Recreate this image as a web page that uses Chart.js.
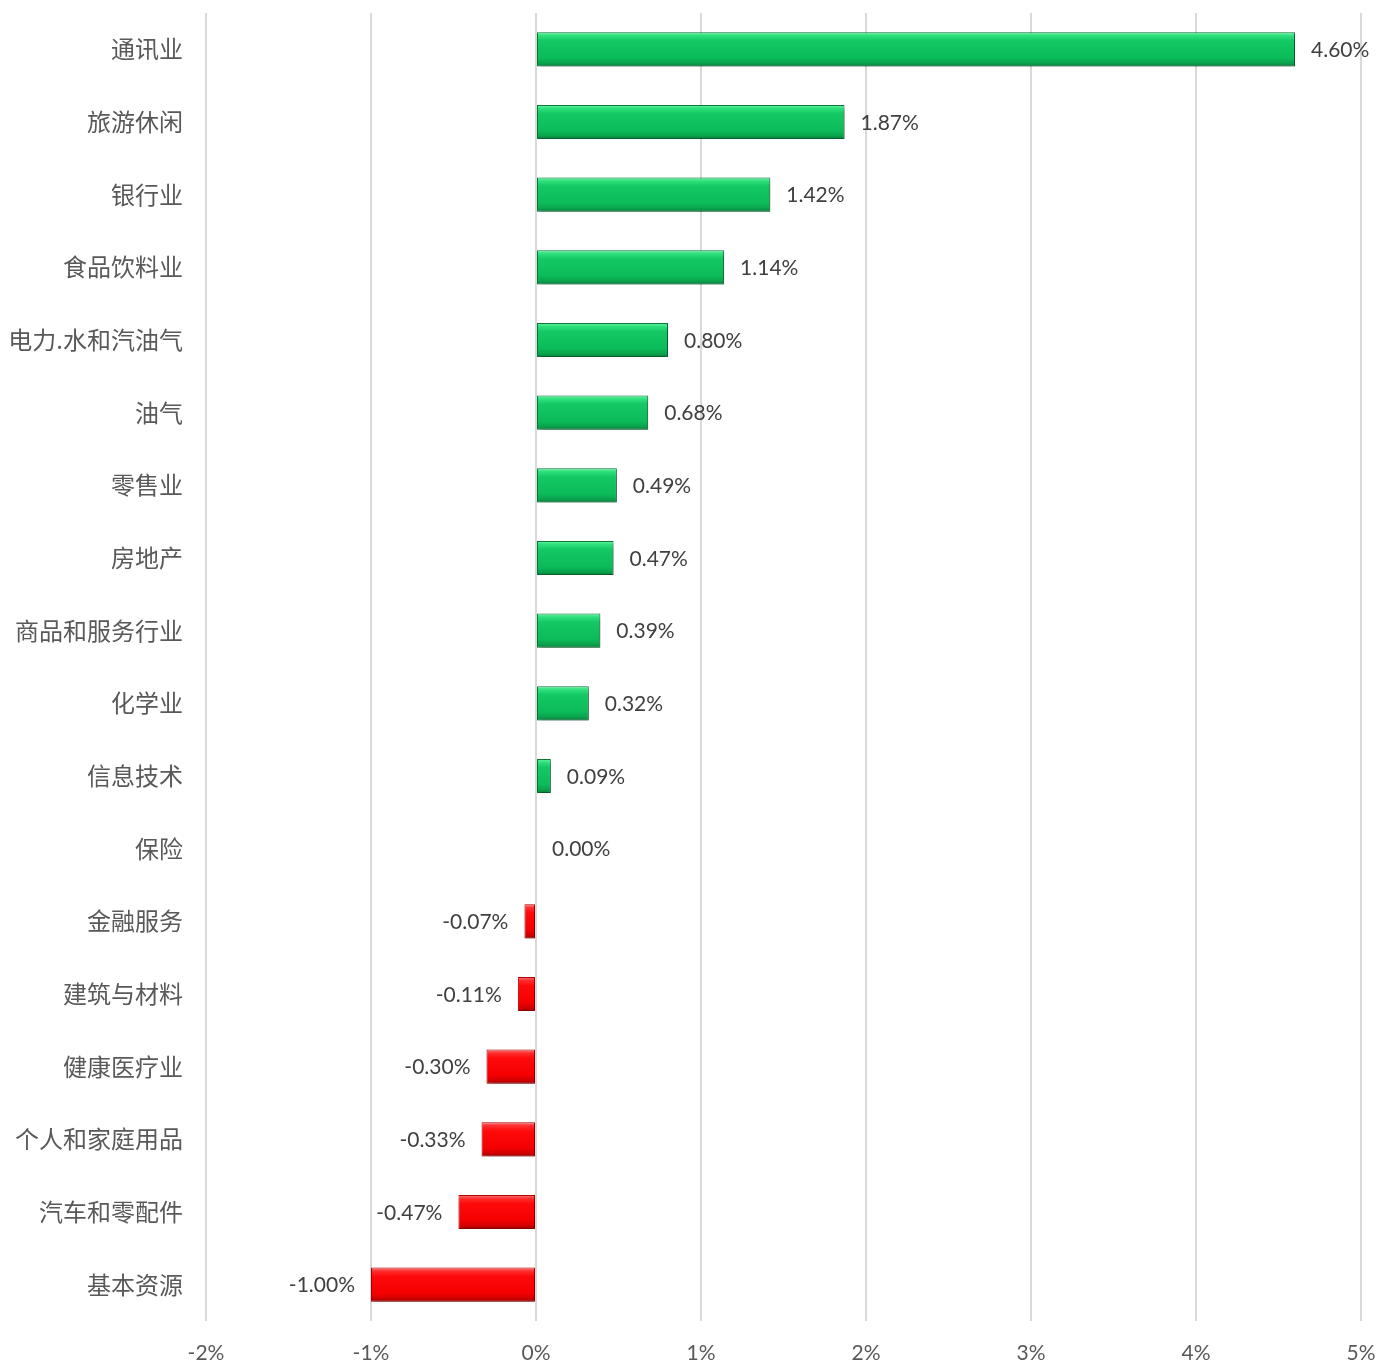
<!DOCTYPE html>
<html>
<head>
<meta charset="utf-8">
<script src="https://cdn.jsdelivr.net/npm/chart.js@4"></script>
<style>
  body { margin: 0; background: #fff; }
  #wrap { width: 1378px; height: 1364px; }
</style>
</head>
<body>
<div id="wrap"><canvas id="myChart"></canvas></div>
<script>
'use strict';

let sectors = ['通讯业', '旅游休闲', '银行业', '食品饮料业', '电力.水和汽油气', '油气', '零售业', '房地产',
  '商品和服务行业', '化学业', '信息技术', '保险', '金融服务', '建筑与材料', '健康医疗业', '个人和家庭用品',
  '汽车和零配件', '基本资源'];
let changes = [4.60, 1.87, 1.42, 1.14, 0.80, 0.68, 0.49, 0.47, 0.39, 0.32, 0.09, 0.00, -0.07, -0.11, -0.30, -0.33, -0.47, -1.00];
let xMin = -2;
let xMax = 5;
let catPct = 0.47;

// vertical gradient for each bar, a rough take on the bevel look
function barFill(context) {
  let chart = context.chart;
  let i = context.dataIndex;
  let yScale = chart.scales.y;
  if (!yScale || !chart.chartArea) {
    return changes[i] >= 0 ? '#0cbb59' : '#f50000';
  }
  let step = (yScale.bottom - yScale.top) / sectors.length;
  let h = step * catPct;
  let top = yScale.getPixelForValue(i) - h / 2;
  let g = chart.ctx.createLinearGradient(0, top, 0, top + h);
  if (changes[i] >= 0) {
    g.addColorStop(0, '#6af5a4');
    g.addColorStop(0.1, '#2fe07c');
    g.addColorStop(0.25, '#13c964');
    g.addColorStop(0.75, '#0cbb59');
    g.addColorStop(0.9, '#0aa34d');
    g.addColorStop(1, '#087f3c');
  } else {
    g.addColorStop(0, '#ff8080');
    g.addColorStop(0.1, '#ff3030');
    g.addColorStop(0.25, '#ff0a0a');
    g.addColorStop(0.75, '#f50000');
    g.addColorStop(0.9, '#d00000');
    g.addColorStop(1, '#a00000');
  }
  return g;
}

let shadowPlugin = {
  id: 'barShadow',
  beforeDatasetsDraw(chart) {
    let ctx = chart.ctx;
    ctx.save();
    ctx.shadowColor = 'rgba(0,0,0,0.35)';
    ctx.shadowBlur = 5;
    ctx.shadowOffsetX = 2;
    ctx.shadowOffsetY = 3;
  },
  afterDatasetsDraw(chart) {
    chart.ctx.restore();
  }
};

let labelPlugin = {
  id: 'valueLabels',
  afterDatasetsDraw(chart) {
    let ctx = chart.ctx;
    let meta = chart.getDatasetMeta(0);
    ctx.save();
    ctx.font = '21px Lato, "Open Sans", sans-serif';
    ctx.fillStyle = '#404040';
    ctx.textBaseline = 'middle';
    meta.data.forEach(function (bar, i) {
      let txt = changes[i].toFixed(2) + '%';
      if (changes[i] >= 0) {
        ctx.textAlign = 'left';
        ctx.fillText(txt, bar.x + 16, bar.y + 1);
      } else {
        ctx.textAlign = 'right';
        ctx.fillText(txt, bar.x - 16, bar.y + 1);
      }
    });
    ctx.restore();
  }
};

let ctx = document.getElementById('myChart').getContext('2d');
let myChart = new Chart(ctx, {
  type: 'bar',
  data: {
    labels: sectors,
    datasets: [{
      data: changes,
      backgroundColor: barFill,
      borderColor: function (c) { return changes[c.dataIndex] >= 0 ? '#0a7a3a' : '#b00000'; },
      borderWidth: 1,
      borderSkipped: false,
      barPercentage: 1,
      categoryPercentage: catPct
    }]
  },
  options: {
    indexAxis: 'y',
    responsive: true,
    maintainAspectRatio: false,
    animation: false,
    layout: { padding: { top: 13, right: 17, bottom: 0, left: 0 } },
    plugins: {
      legend: { display: false },
      tooltip: { enabled: false }
    },
    scales: {
      x: {
        min: xMin,
        max: xMax,
        grid: { color: '#d9d9d9', lineWidth: 2, drawTicks: false },
        border: { display: false },
        ticks: {
          stepSize: 1,
          padding: 20,
          color: '#595959',
          font: { size: 21, family: 'Lato, "Open Sans", sans-serif' },
          callback: function (v) { return v + '%'; }
        },
        afterFit: function (axis) {
          axis.height = 43;
          axis.paddingLeft = 0;
          axis.paddingRight = 0;
        }
      },
      y: {
        grid: { display: false, drawTicks: false },
        border: { display: false },
        ticks: {
          padding: 23,
          color: '#595959',
          font: { size: 24, family: '"Noto Sans CJK SC", sans-serif' }
        },
        afterFit: function (axis) {
          axis.width = 206;
          axis.paddingTop = 0;
          axis.paddingBottom = 0;
        }
      }
    }
  },
  plugins: [shadowPlugin, labelPlugin]
});
</script>
</body>
</html>
